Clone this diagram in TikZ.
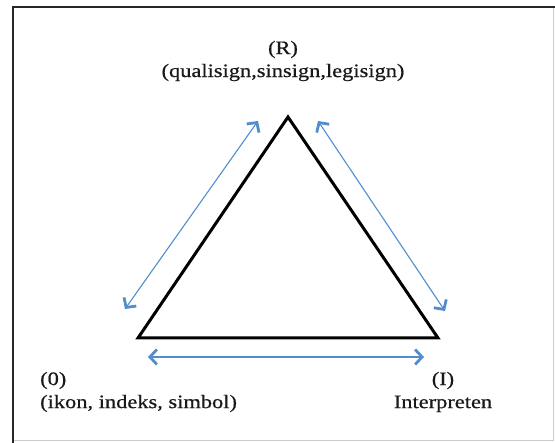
\documentclass[tikz,border=0pt]{standalone}
\usepackage{fontspec}
\setmainfont[FakeStretch=1.18,FakeBold=0.6]{Liberation Serif}
\usetikzlibrary{arrows.meta}
\definecolor{arrblue}{RGB}{84,141,203}
\tikzset{
  tri/.style={line width=3pt, line join=miter, black},
  rel/.style={arrblue, line width=1.1pt, {Straight Barb[length=7pt,width=15pt,line width=2.8pt]}-{Straight Barb[length=7pt,width=15pt,line width=2.8pt]}},
  lbl/.style={font=\fontsize{19}{23}\selectfont, text=black!90, inner sep=0pt, align=center}
}
\begin{document}
\begin{tikzpicture}[x=1pt,y=-1pt]
\useasboundingbox (0,0) rectangle (555,443);
\fill[white] (0,0) rectangle (555,443);
% frame
\draw[gray!40, line width=1pt] (553,7) -- (553,441) -- (13,441);
\draw[black!85, line width=2pt] (13,443) -- (13,7) -- (555,7);
% triangle
\coordinate (R) at (288,117);
\coordinate (O) at (138,338);
\coordinate (I) at (438,338);
\draw[tri] (R) -- (I) -- (O) -- cycle;
% arrows
\coordinate (a1) at (125,309);
\coordinate (a2) at (258,121);
\coordinate (b1) at (318,121);
\coordinate (b2) at (445,311);
\coordinate (c1) at (148,357);
\coordinate (c2) at (424,357);
\draw[rel] (a1) -- (a2);
\draw[rel] (b1) -- (b2);
\draw[rel] (c1) -- (c2);
% labels
\node[lbl] (lR) at (283,61) {(R)\\(qualisign,sinsign,legisign)};
\node[lbl, anchor=west, align=left] (lO) at (40,392) {(0)\\(ikon, indeks, simbol)};
\node[lbl] (lI) at (443,392) {(I)\\Interpreten};
\end{tikzpicture}
\end{document}
